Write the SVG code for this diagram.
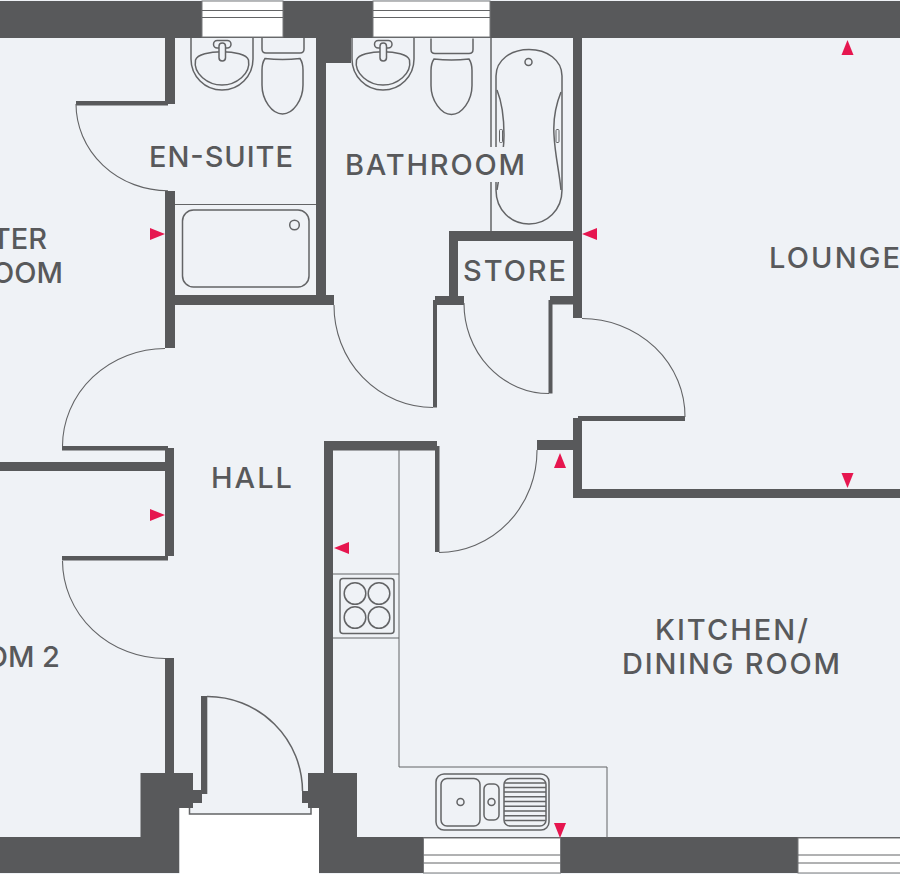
<svg xmlns="http://www.w3.org/2000/svg" width="900" height="874" viewBox="0 0 900 874">
<style>
.wall{fill:#58595b}
.win{fill:#fff;stroke:#77787b;stroke-width:1}
.line{fill:none;stroke:#636466;stroke-width:1}
.fix{fill:none;stroke:#636466;stroke-width:1.5}
.arc{fill:none;stroke:#636466;stroke-width:1.1}
.mk{fill:#e6164f}
text{font-family:"Inter","Liberation Sans",sans-serif;font-weight:500;font-size:29px;fill:#58595b}
</style>
<defs>
<g id="basin">
<path class="fix" d="M191 38V59A31 31 0 0 0 253 59V38"/>
<path class="fix" d="M195.500 60C199 49 245 49 248.500 60C251 74 236 85 222 85C208 85 193 74 195.500 60Z"/>
<rect class="fix" x="213.500" y="40.500" width="17.500" height="7.500" rx="3.700"/>
<rect class="fix" x="219" y="43" width="6.500" height="18" rx="3.200" style="fill:#eff2f6"/>
</g>
<g id="wc">
<path class="fix" d="M262 38V49Q262 53 266 53H300Q304 53 304 49V38"/>
<path class="fix" d="M265 58.500Q282.500 60.500 300 58.500Q303 63 303 70V85C303 100 293 114 282.500 114C272 114 262 100 262 85V70Q262 63 265 58.500Z"/>
</g>
<path id="tri" d="M0 -6L15 0L0 6Z"/>
</defs>
<rect width="900" height="874" fill="#eff2f6"/>
<g id="walls">
<rect class="wall" x="0" y="1" width="900" height="37"/>
<rect class="wall" x="165" y="38" width="10" height="66"/>
<rect class="wall" x="76" y="101" width="92" height="4.500"/>
<rect class="wall" x="165" y="191" width="10" height="157"/>
<rect class="wall" x="316" y="38" width="35" height="25"/>
<rect class="wall" x="316" y="38" width="10" height="267"/>
<rect class="wall" x="175" y="295" width="159" height="10"/>
<rect class="wall" x="573" y="38" width="9" height="280"/>
<rect class="wall" x="449" y="231" width="124" height="10"/>
<rect class="wall" x="449" y="231" width="9" height="74"/>
<rect class="wall" x="435" y="296" width="29" height="9"/>
<rect class="wall" x="433" y="300" width="4" height="107.500"/>
<rect class="wall" x="550" y="296" width="23" height="8.500"/>
<rect class="wall" x="548.500" y="300" width="4" height="93.500"/>
<rect class="wall" x="578" y="416" width="107" height="5"/>
<rect class="wall" x="573" y="418" width="9" height="80"/>
<rect class="wall" x="573" y="489" width="327" height="9"/>
<rect class="wall" x="537" y="440" width="36" height="10"/>
<rect class="wall" x="324" y="441" width="113" height="9.500"/>
<rect class="wall" x="435" y="446" width="4.500" height="106"/>
<rect class="wall" x="324" y="441" width="9" height="335"/>
<rect class="wall" x="62" y="446" width="106" height="4.500"/>
<rect class="wall" x="0" y="462" width="165" height="9"/>
<rect class="wall" x="165" y="448" width="9" height="108"/>
<rect class="wall" x="62" y="556" width="106" height="4.500"/>
<rect class="wall" x="165" y="658" width="9" height="116"/>
<rect class="wall" x="201" y="696" width="6.300" height="98"/>
<path class="wall" d="M140.500 773H193V790H202V803H193V808H179.500V873H0V837H140.500Z"/>
<path class="wall" d="M308 773H357V837H900V873H319V808H308V803H302V791H308Z"/>
</g>
<g id="openings">
<path d="M179.500 808H189.500V814H311V808H319V874H179.500Z" fill="#fff"/>
<path class="fix" d="M189.500 808V814H311V808"/>
<g id="window-1"><rect class="win" x="202" y="1" width="81" height="36"/><path class="line" d="M202 10.500H283M202 17.500H283"/></g>
<g id="window-2"><rect class="win" x="373" y="1" width="117" height="36"/><path class="line" d="M373 10.500H490M373 17.500H490"/></g>
<g id="window-3"><rect class="win" x="423.500" y="838" width="137" height="35"/><path class="line" d="M423.500 855H560.500M423.500 863H560.500"/></g>
<g id="window-4"><rect class="win" x="798" y="838" width="103" height="35"/><path class="line" d="M798 855H900M798 863H900"/></g>
</g>
<g id="doors">
<path class="arc" d="M76 104A92 87 0 0 0 168 190.700"/>
<path class="arc" d="M165 348.500A103 98 0 0 0 62.500 446"/>
<path class="arc" d="M62.500 561A103 98 0 0 0 165 658.500"/>
<path class="arc" d="M334 305A99 102 0 0 0 433 407.500"/>
<path class="arc" d="M464 303A85 90 0 0 0 549 393.500"/>
<path class="arc" d="M582 318.500A103 98 0 0 1 685 417"/>
<path class="arc" d="M537 450A98 102 0 0 1 439 552.500"/>
<path class="fix" d="M207 696.500A95 95 0 0 1 302.500 791"/>
</g>
<g id="fittings">
<use href="#basin"/>
<use href="#wc"/>
<use href="#basin" x="161"/>
<use href="#wc" x="169" y="0.500"/>
<path class="line" d="M175 204.500H316"/>
<rect class="fix" x="182.500" y="210" width="126.500" height="77" rx="11"/>
<circle class="fix" cx="294.500" cy="225" r="4.800"/>
<path class="fix" d="M491 38V231" stroke-width="1"/>
<path class="fix" d="M496 76C496 60 511 49.500 529 49.500C547 49.500 562 60 562 76V190C562 210 547 224 529 224C511 224 496 210 496 190Z"/>
<path class="fix" d="M497 90C503 105 504 120 504 135C504 155 500 170 497 190M561 92C555 107 553 120 554 135C555 155 559 170 561 190"/>
<rect class="line" x="499.500" y="129.500" width="3" height="13" rx="1"/>
<rect class="line" x="556" y="129.500" width="3" height="13" rx="1"/>
<circle class="fix" cx="528.500" cy="62" r="3.500"/>
<rect x="487" y="147" width="38" height="35" fill="#eff2f6"/>
<path class="line" d="M399 450V767H607V838"/>
<path class="line" d="M333 574H399M333 638H399" stroke-width="1.200"/>
<rect class="fix" x="340" y="578.500" width="54" height="55" rx="3"/>
<circle class="fix" cx="355" cy="593.500" r="10.800"/>
<circle class="fix" cx="379" cy="593.500" r="10.800"/>
<circle class="fix" cx="355" cy="617.500" r="10.800"/>
<circle class="fix" cx="379" cy="617.500" r="10.800"/>
<rect class="fix" x="436" y="774" width="113" height="56" rx="8"/>
<rect class="fix" x="441" y="778.500" width="39" height="47.500" rx="6"/>
<rect class="fix" x="484" y="784" width="15" height="36" rx="5"/>
<rect class="fix" x="504" y="778.500" width="42" height="47.500" rx="6"/>
<circle class="fix" cx="460.500" cy="802" r="3.500"/>
<circle class="fix" cx="491.500" cy="802" r="3.500"/>
<path class="fix" d="M504.500 783H545.500M504 787.500H546M504 792H546M504 796.700H546M504 801.500H546M504 806.300H546M504 811H546M504 815.700H546M504.500 820.500H545.500"/>
</g>
<g id="markers">
<use class="mk" href="#tri" transform="translate(150 234)"/>
<use class="mk" href="#tri" transform="translate(150 515)"/>
<use class="mk" href="#tri" transform="translate(597 234) rotate(180)"/>
<use class="mk" href="#tri" transform="translate(349 548) rotate(180)"/>
<use class="mk" href="#tri" transform="translate(560 468) rotate(-90)"/>
<use class="mk" href="#tri" transform="translate(847.500 55) rotate(-90)"/>
<use class="mk" href="#tri" transform="translate(847.500 473) rotate(90)"/>
<use class="mk" href="#tri" transform="translate(560 823) rotate(90)"/>
</g>
<g id="labels">
<text x="149" y="167" textLength="144">EN-SUITE</text>
<text x="345" y="175" textLength="180">BATHROOM</text>
<text x="463" y="281" textLength="103">STORE</text>
<text x="211" y="488" textLength="81">HALL</text>
<text x="769" y="268" textLength="131">LOUNGE</text>
<text x="47" y="249" text-anchor="end">TER</text>
<text x="63" y="283" text-anchor="end">OOM</text>
<text x="60" y="667" text-anchor="end">OM 2</text>
<text x="655" y="640" textLength="153">KITCHEN/</text>
<text x="622" y="674" textLength="218">DINING ROOM</text>
</g>
</svg>
